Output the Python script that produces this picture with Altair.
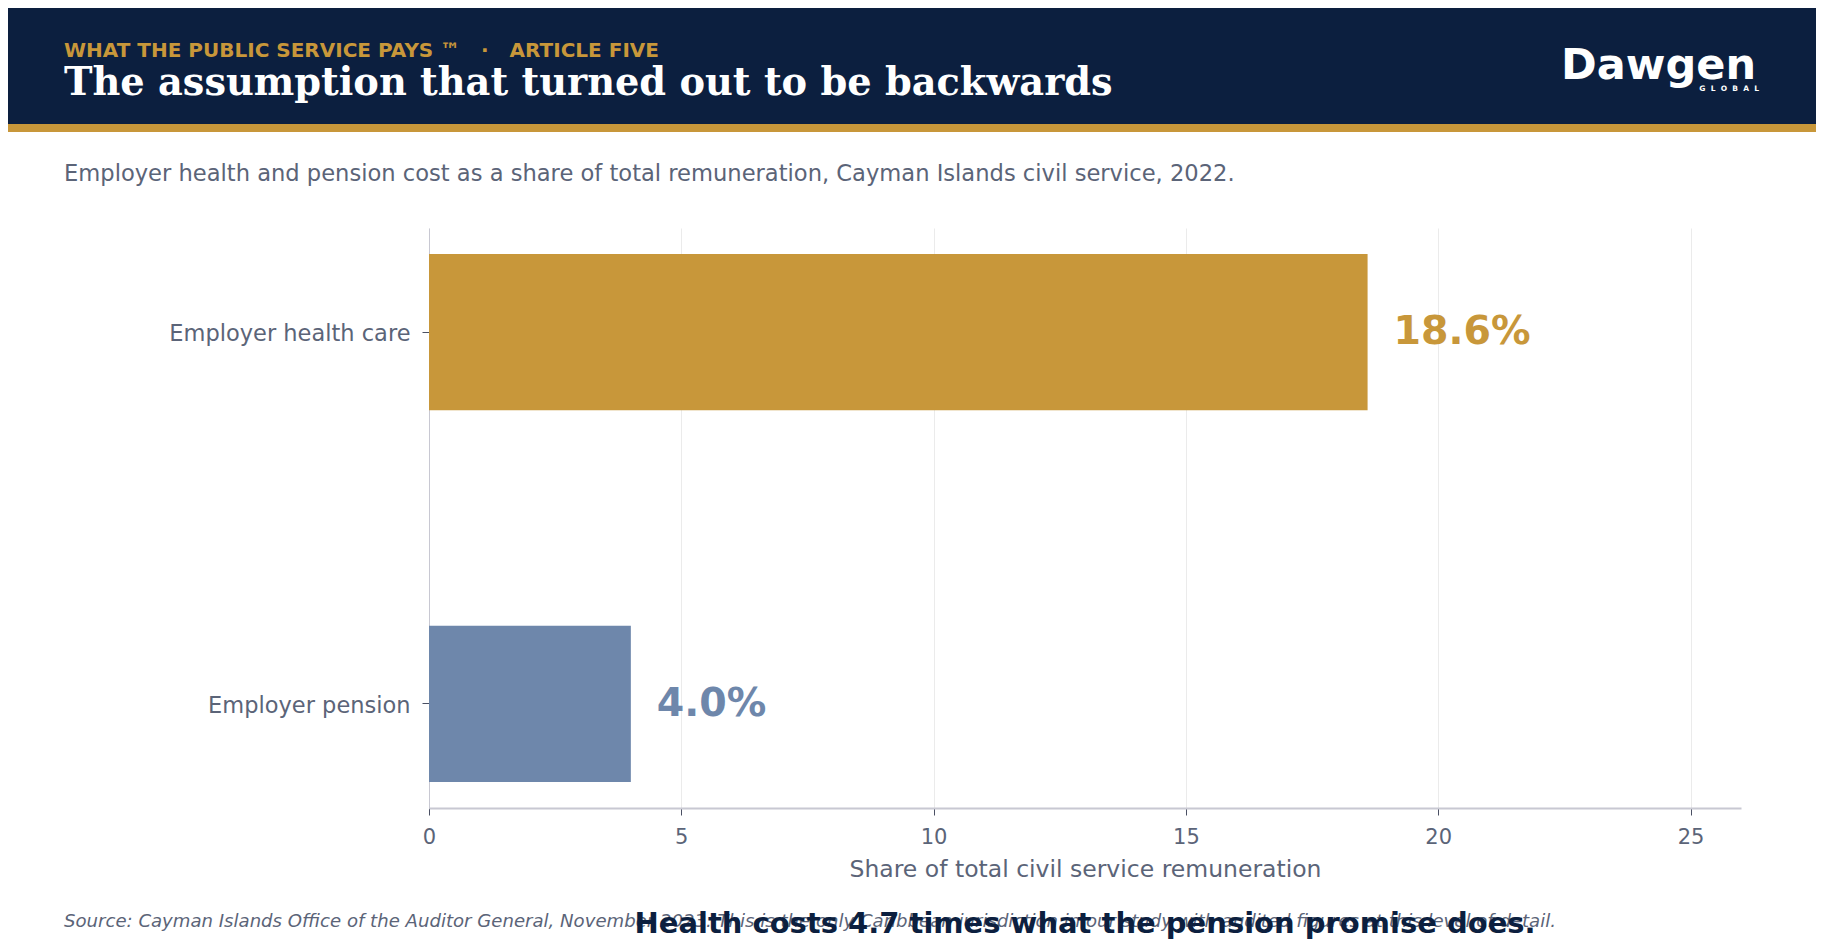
import altair as alt
import pandas as pd

# ---- data ----
categories = ["Employer health care", "Employer pension"]
values = [18.6, 4.0]
value_labels = ["18.6%", "4.0%"]
bar_colors = ["#C8973A", "#6E87AB"]
x_ticks = [0, 5, 10, 15, 20, 25]

NB = "\u00a0"
KICKER = "WHAT THE PUBLIC SERVICE PAYS \u2122" + NB * 3 + "\u00b7" + NB * 3 + "ARTICLE FIVE"
TITLE = "The assumption that turned out to be backwards"
SUBTITLE = "Employer health and pension cost as a share of total remuneration, Cayman Islands civil service, 2022."
X_TITLE = "Share of total civil service remuneration"
SOURCE = ("Source: Cayman Islands Office of the Auditor General, November 2023. This is the only Caribbean "
          "jurisdiction in our study with audited figures at this level of detail.")
TAKEAWAY = "Health costs 4.7 times what the pension promise does."

df = pd.DataFrame({"category": categories, "value": values,
                   "label": value_labels, "color": bar_colors})
one = pd.DataFrame({"k": [0]})

NAVY = "#0C1F3F"
GOLD = "#C8973A"
GREY = "#5b6478"

W, H = 1312, 580
PL, PT = 421, 220
PR = 1808 - PL - W
PB = 934 - PT - H

y_enc = alt.Y("category:N", sort=categories, title=None,
              scale=alt.Scale(paddingInner=0.58, paddingOuter=0.07),
              axis=alt.Axis(labelFontSize=22.5, labelColor=GREY, labelFont="DejaVu Sans",
                            labelLimit=500, tickColor="#4a5063", tickSize=7, labelPadding=12,
                            labelOffset=2,
                            domainColor="#c8c8d2", domainWidth=1, grid=False))
x_enc = alt.X("value:Q", scale=alt.Scale(domain=[0, 26], nice=False, zero=True),
              title=X_TITLE,
              axis=alt.Axis(values=x_ticks, labelFontSize=21, labelColor=GREY,
                            labelFont="DejaVu Sans", labelFlush=False, tickColor="#4a5063",
                            tickSize=7, labelPadding=11, domainColor="#c8c8d2", domainWidth=2,
                            gridColor="#ebebeb", gridWidth=1, grid=True,
                            titleFontSize=23.5, titleColor=GREY, titleFont="DejaVu Sans",
                            titleFontWeight="normal", titlePadding=10))

bars = alt.Chart(df).mark_bar().encode(
    x=x_enc, y=y_enc, color=alt.Color("color:N", scale=None))

vlabels = alt.Chart(df).mark_text(align="left", baseline="middle", dx=26, fontSize=39.5,
                                  fontWeight="bold", font="DejaVu Sans").encode(
    x="value:Q", y=alt.Y("category:N", sort=categories),
    text="label:N", color=alt.Color("color:N", scale=None))

header = alt.Chart(one).mark_rect(color=NAVY).encode(
    x=alt.value(-PL), x2=alt.value(W + PR), y=alt.value(-PT), y2=alt.value(-104))
stripe = alt.Chart(one).mark_rect(color=GOLD).encode(
    x=alt.value(-PL), x2=alt.value(W + PR), y=alt.value(-104), y2=alt.value(-96))


def txt(text, x, y, size, color, weight="normal", font="DejaVu Sans", align="left",
        style="normal"):
    return alt.Chart(one).mark_text(
        align=align, baseline="alphabetic", fontSize=size, color=color,
        fontWeight=weight, font=font, fontStyle=style, text=text
    ).encode(x=alt.value(x), y=alt.value(y))


kicker = txt(KICKER, 64 - 429, 57 - 228, 20, GOLD, weight="bold")
title = txt(TITLE, 64 - 429, 95 - 228, 38.3, "#ffffff", weight="bold", font="DejaVu Serif")
logo = txt("Dawgen", 1561 - 429, 79 - 228, 43, "#ffffff", weight="bold")
logo2 = txt("G" + NB * 2 + "L" + NB * 2 + "O" + NB * 2 + "B" + NB * 2 + "A" + NB * 2 + "L",
            1759 - 429, 91 - 228, 7.5, "#ffffff", weight="bold", align="right")
subtitle = txt(SUBTITLE, 64 - 429, 181 - 228, 22.6, GREY)
source = txt(SOURCE, 64 - 429, 927 - 228, 18.1, GREY, style="italic")
takeaway = txt(TAKEAWAY, W / 2, 933 - 228, 29, NAVY, weight="bold", align="center")

chart = alt.layer(header, stripe, kicker, title, logo, logo2, subtitle,
                  bars, vlabels, source, takeaway).properties(
    width=W, height=H,
    autosize=alt.AutoSizeParams(type="none"),
    padding={"left": PL, "top": PT, "right": PR, "bottom": PB},
    background="#ffffff",
).configure_view(stroke=None)

chart.save("out.html", embed_options={"renderer": "svg", "actions": False})
